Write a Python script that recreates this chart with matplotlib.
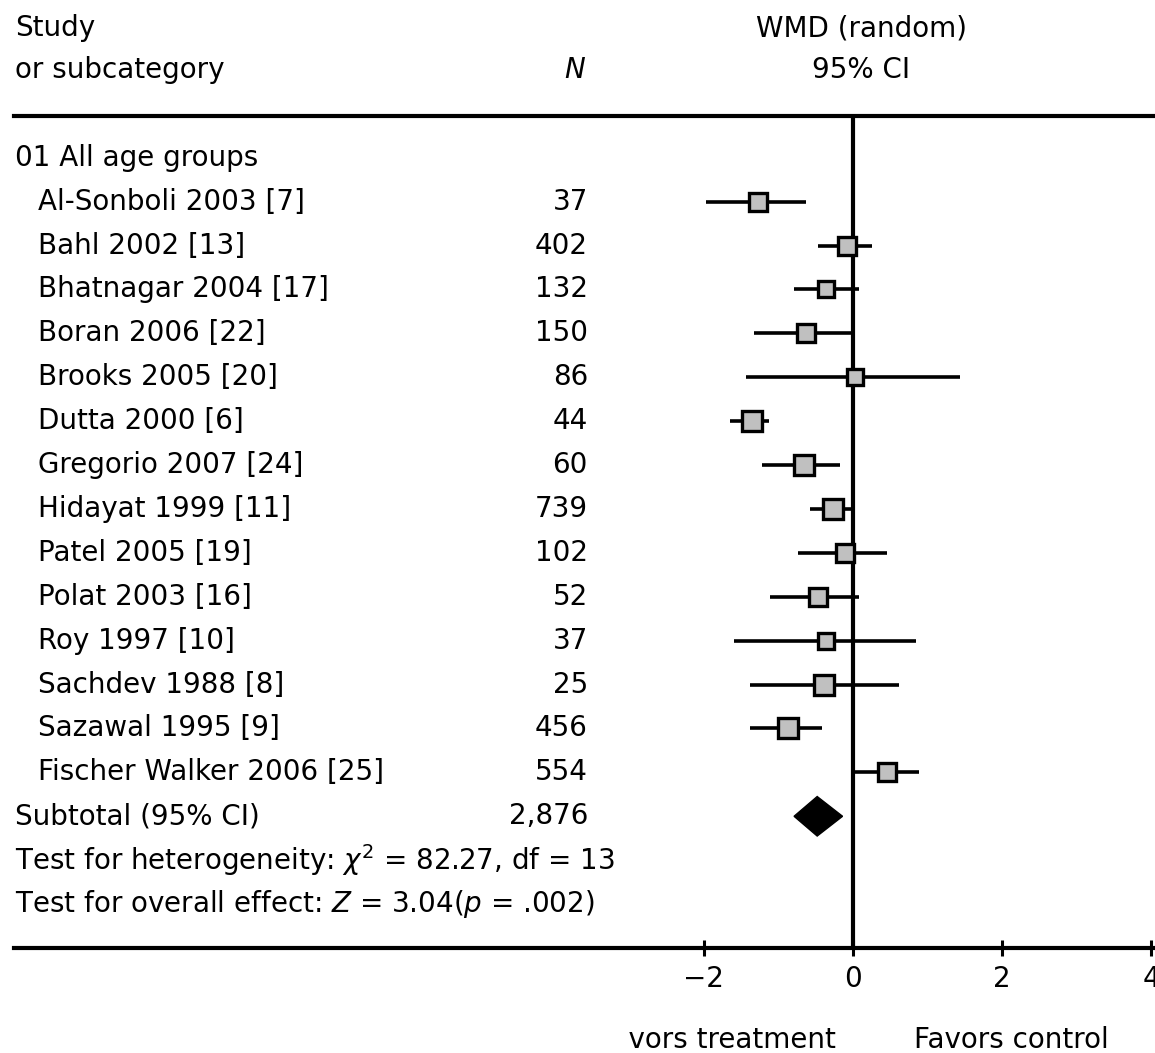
import matplotlib
matplotlib.use("Agg")
import matplotlib.pyplot as plt
from matplotlib.transforms import blended_transform_factory, Bbox, TransformedBbox
from matplotlib.patches import Polygon

# ---------- DATA ----------

studies = [
    "Al-Sonboli 2003 [7]", "Bahl 2002 [13]", "Bhatnagar 2004 [17]", "Boran 2006 [22]",
    "Brooks 2005 [20]", "Dutta 2000 [6]", "Gregorio 2007 [24]", "Hidayat 1999 [11]",
    "Patel 2005 [19]", "Polat 2003 [16]", "Roy 1997 [10]", "Sachdev 1988 [8]",
    "Sazawal 1995 [9]", "Fischer Walker 2006 [25]",
]
n_patients = [37, 402, 132, 150, 86, 44, 60, 739, 102, 52, 37, 25, 456, 554]
wmd = [-1.27, -0.08, -0.36, -0.63, 0.03, -1.36, -0.66, -0.27, -0.11, -0.47, -0.36, -0.39, -0.87, 0.46]
ci_low = [-1.97, -0.47, -0.79, -1.33, -1.44, -1.65, -1.22, -0.57, -0.74, -1.11, -1.60, -1.38, -1.38, 0.02]
ci_high = [-0.63, 0.25, 0.08, 0.0, 1.43, -1.12, -0.18, 0.0, 0.46, 0.08, 0.84, 0.62, -0.41, 0.89]
weights = [6.6, 6.3, 5.7, 6.6, 5.7, 7.8, 7.8, 8.0, 7.4, 6.6, 5.7, 8.0, 8.0, 6.6]

subtotal = (-0.48, -0.79, -0.14)   # estimate, low, high
group_label = "01 All age groups"
heterogeneity = r"Test for heterogeneity: $\chi^2$ = 82.27, df = 13"
overall = r"Test for overall effect: $Z$ = 3.04($p$ = .002)"
x_ticks = [-2, 0, 2, 4]

# ---------- STYLE ----------

plt.rcParams["font.family"] = ["DejaVu Sans"]
plt.rcParams["mathtext.fontset"] = "dejavusans"
FS = 20

W, H = 1155, 1053
fig = plt.figure(figsize=(W / 100, H / 100), dpi=100)

# axes spans from the top rule (y=116 px) to the scale line (y=948 px)
ax_left, ax_top, ax_bottom = 14, 116, 948
ax = fig.add_axes([ax_left / W, 1 - ax_bottom / H, (W - ax_left) / W, (ax_bottom - ax_top) / H])

x0_px, unit_px = 853, 74.6
ax.set_xlim((ax_left - x0_px) / unit_px, (W - x0_px) / unit_px)
ax.set_ylim(18.0, -0.95)

for side in ["left", "right"]:
    ax.spines[side].set_visible(False)
for side in ["top", "bottom"]:
    ax.spines[side].set_linewidth(3.0)
ax.set_yticks([])
ax.set_xticks(x_ticks)
ax.set_xticklabels([f"{t}" if t >= 0 else f"\u2212{-t}" for t in x_ticks], fontsize=FS)
ax.tick_params(axis="x", direction="inout", length=11, width=2.2, pad=7)

ax.axvline(0, color="black", lw=3.0, zorder=2)

rows = list(range(1, len(studies) + 1))
for y, m, lo, hi, w in zip(rows, wmd, ci_low, ci_high, weights):
    ax.plot([lo, hi], [y, y], color="black", lw=2.6, solid_capstyle="butt", zorder=3)
    ax.plot(m, y, marker="s", ms=(6 + 1.75 * w) * 0.72, mfc="#c0c0c0", mec="black",
            mew=2.4, zorder=4)

sub_row = len(studies) + 1
est, lo, hi = subtotal
ax.add_patch(Polygon([(lo, sub_row), (est, sub_row - 0.45), (hi, sub_row), (est, sub_row + 0.45)],
                     closed=True, facecolor="black", edgecolor="black", lw=1, zorder=4))

# ---------- TEXT COLUMNS ----------

tr = blended_transform_factory(fig.transFigure, ax.transData)
x_label_grp = 15 / W
x_label_study = 38 / W
x_n = 588 / W

fig.text(x_label_grp, -2.95, "Study", transform=tr, fontsize=FS, va="center", ha="left")
fig.text(x_label_grp, -2.0, "or subcategory", transform=tr, fontsize=FS, va="center", ha="left")
fig.text(575 / W, -2.0, "N", transform=tr, fontsize=FS, va="center", ha="center", style="italic")
fig.text(861 / W, -2.95, "WMD (random)", transform=tr, fontsize=FS, va="center", ha="center")
fig.text(861 / W, -2.0, "95% CI", transform=tr, fontsize=FS, va="center", ha="center")

fig.text(x_label_grp, 0, group_label, transform=tr, fontsize=FS, va="center", ha="left")
for y, name, n in zip(rows, studies, n_patients):
    fig.text(x_label_study, y, name, transform=tr, fontsize=FS, va="center", ha="left")
    fig.text(x_n, y, f"{n}", transform=tr, fontsize=FS, va="center", ha="right")

fig.text(x_label_grp, sub_row, "Subtotal (95% CI)", transform=tr, fontsize=FS, va="center", ha="left")
fig.text(x_n, sub_row, f"{sum(n_patients):,}", transform=tr, fontsize=FS, va="center", ha="right")
fig.text(x_label_grp, sub_row + 1, heterogeneity, transform=tr, fontsize=FS, va="center", ha="left")
fig.text(x_label_grp, sub_row + 2, overall, transform=tr, fontsize=FS, va="center", ha="left")

# favours labels under the scale, left one cut off as in the source
clip = TransformedBbox(Bbox([[626 / W, 0], [1, 1]]), fig.transFigure)
t1 = fig.text(836 / W, 1 - 1040 / H, "Favors treatment", fontsize=FS, va="center", ha="right")
t1.set_clip_box(clip)
t1.set_clip_on(True)
fig.text(914 / W, 1 - 1040 / H, "Favors control", fontsize=FS, va="center", ha="left")

fig.savefig("out.png", dpi=100)
